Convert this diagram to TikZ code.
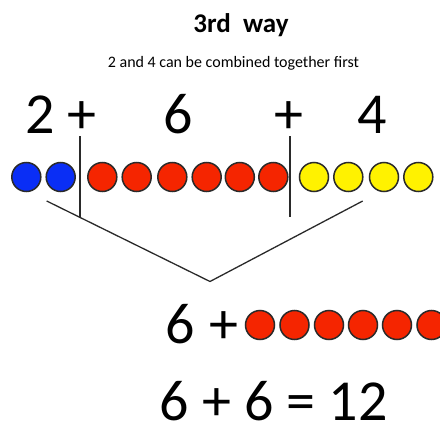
\documentclass[tikz,border=0pt]{standalone}
\usepackage{fontspec}
\setmainfont{Carlito}
\definecolor{cblue}{HTML}{0A2EF5}
\definecolor{cred}{HTML}{F52500}
\definecolor{cyellow}{HTML}{FFF200}
\definecolor{edge}{HTML}{2A2A2A}
\begin{document}
\begin{tikzpicture}[x=1pt,y=-1pt,
  counter/.style={circle,draw=edge,line width=1.5pt,minimum size=29pt,inner sep=0pt},
  bluec/.style={counter,fill=cblue},
  redc/.style={counter,fill=cred},
  yelc/.style={counter,fill=cyellow},
  big/.style={anchor=base,inner sep=0pt,text depth=0pt,font=\fontsize{58}{60}\selectfont},
  link/.style={draw=edge,line width=1.3pt}]
\useasboundingbox (0,0) rectangle (440,426);
\clip (0,0) rectangle (440,426);
% titles
\node[anchor=base,inner sep=0pt,font=\fontsize{27}{30}\selectfont\bfseries] (title) at (241,32) {3rd\ \ way};
\node[anchor=base,inner sep=0pt,font=\fontsize{16}{18}\selectfont] (sub) at (233.5,67) {2 and 4 can be combined together first};
% top sum
\node[big] (n2) at (40,133) {2};
\node[big] (p1) at (82,133) {+};
\node[big] (n6) at (178,133) {6};
\node[big] (p2) at (289,133) {+};
\node[big] (n4) at (372,133) {4};
% counters
\node[bluec] (b1) at (26.3,177) {};
\node[bluec] (b2) at (60.7,177) {};
\foreach \i/\x in {1/102.3,2/136.7,3/172.3,4/206.7,5/239.8,6/273.3}
  \node[redc] (r\i) at (\x,177) {};
\foreach \i/\x in {1/314,2/348.3,3/384,4/418.3}
  \node[yelc] (y\i) at (\x,177) {};
% separators
\coordinate (s1t) at (80,136);
\coordinate (s1b) at (80,217);
\coordinate (s2t) at (290,136);
\coordinate (s2b) at (290,217);
\draw[link] (s1t) -- (s1b);
\draw[link] (s2t) -- (s2b);
% bracket
\coordinate (vl) at (46.7,201);
\coordinate (apex) at (210,281.5);
\coordinate (vr) at (362.7,201);
\draw[link] (vl) -- (apex) -- (vr);
% second line
\node[big] (m6) at (180,343) {6};
\node[big] (mp) at (223.5,343) {+};
\foreach \i/\x in {1/260,2/294.5,3/329,4/363,5/397,6/431.5}
  \node[redc] (q\i) at (\x,325) {};
% result
\node[big] (res) at (273.5,420) {6 + 6 = 12};
\end{tikzpicture}
\end{document}
